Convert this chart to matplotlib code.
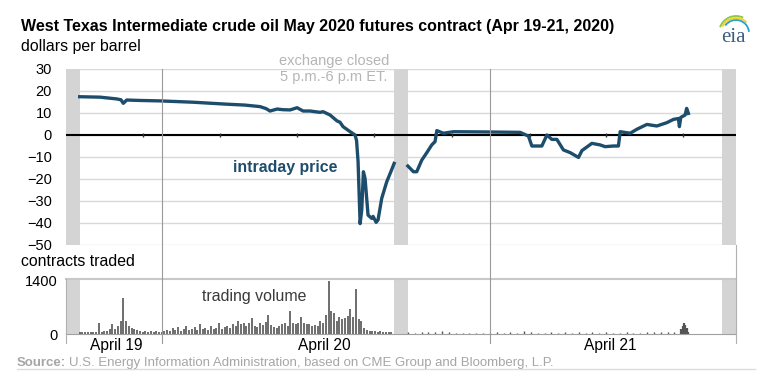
import matplotlib
matplotlib.use("Agg")
import matplotlib.pyplot as plt
import matplotlib.transforms as mtransforms
from matplotlib.lines import Line2D
from matplotlib.patches import Arc
import numpy as np

plt.rcParams['font.family'] = ['Liberation Sans', 'DejaVu Sans']

# x axis = hours after 5 p.m. ET, Sunday April 19 2020
sess1_hours = [1.0, 2.49, 3.71, 4.02, 4.19, 4.44, 5.41, 6.88, 9.29, 11.78,
               13.09, 14.19, 14.63, 14.92, 15.44, 15.87, 16.39, 16.90, 17.34, 17.85,
               18.58, 18.80, 19.31, 19.82, 20.04, 20.26, 20.78, 21.14, 21.25, 21.36,
               21.51, 21.63, 21.75, 21.87, 21.98, 22.09, 22.36, 22.46, 22.68, 22.82,
               23.09, 23.46, 23.77, 24.0]
sess1_price = [17.4, 17.2, 16.4, 16.0, 14.4, 15.9, 15.7, 15.5, 14.9, 14.0,
               13.6, 12.9, 12.0, 10.9, 11.8, 11.5, 11.4, 12.4, 10.9, 10.9,
               10.3, 10.6, 9.1, 6.4, 5.8, 3.8, 1.5, 0.0, -2.5, -12.1,
               -40.3, -34.0, -16.7, -19.7, -28.0, -36.4, -37.9, -37.0, -39.7, -38.6,
               -28.8, -21.2, -16.5, -12.9]

sess2_hours = [25.0, 25.41, 25.65, 26.02, 26.39, 26.75, 26.99, 27.12, 27.60, 28.33,
               30.53, 33.21, 33.82, 34.07, 34.80, 35.17, 35.53, 35.90, 36.38, 36.87,
               37.48, 37.73, 38.46, 39.06, 39.43, 40.04, 40.40, 40.53, 41.26, 41.75,
               42.48, 43.21, 43.94, 44.43, 44.79, 44.86, 44.96, 45.28, 45.39, 45.52]
sess2_price = [-14.1, -16.7, -16.7, -11.4, -8.0, -4.5, -3.0, 2.0, 0.8, 1.5,
               1.4, 1.2, -0.5, -5.0, -5.0, 0.0, -2.0, -2.0, -6.8, -8.0,
               -10.2, -7.1, -3.8, -4.5, -5.3, -5.0, -5.0, 1.5, 0.8, 2.6,
               4.8, 4.1, 5.6, 7.1, 7.5, 3.8, 8.0, 9.1, 12.1, 9.8]

# contracts traded, first session every 0.2 h from hour 1.0
vol1_start, vol1_step = 1.0, 0.2
vol1 = [60, 50, 40, 50, 40, 60, 50, 290, 60, 70,
        90, 130, 250, 120, 200, 330, 950, 350, 200, 150,
        120, 100, 80, 60, 70, 50, 80, 60, 70, 50,
        60, 90, 110, 80, 150, 100, 190, 90, 120, 210,
        100, 130, 180, 110, 260, 120, 150, 110, 200, 130,
        160, 280, 130, 180, 220, 150, 250, 200, 330, 260,
        280, 220, 300, 420, 200, 180, 280, 230, 320, 500,
        230, 180, 150, 200, 260, 290, 220, 590, 300, 250,
        300, 450, 280, 250, 260, 200, 230, 200, 330, 300,
        500, 1380, 600, 550, 350, 450, 400, 430, 480, 650,
        450, 1170, 380, 350, 150, 110, 90, 70, 80, 60,
        70, 50, 60, 50, 40]
# second session every 0.5 h from hour 25.0
vol2_start, vol2_step = 25.0, 0.5
vol2 = [40, 30, 50, 40, 60, 70, 40, 30, 30, 20,
        30, 20, 30, 40, 30, 50, 30, 70, 40, 30,
        30, 40, 30, 40, 30, 40, 30, 40, 30, 40,
        30, 30, 40, 30, 30, 50, 40, 60, 40, 50]
close_vol_hours = [45.0, 45.1, 45.2, 45.3, 45.4, 45.5]
close_vol = [120, 200, 290, 240, 160, 60]

closed_hours = [(0, 1), (24, 25), (48, 49)]
midnights = [7, 31]
day_labels = ['April 19', 'April 20', 'April 21']
day_label_pos = [3.7, 18.9, 39.8]
zero_ticks = [5.63, 11.27, 16.9, 22.5, 28.2, 33.9, 39.5, 45.1]
price_ticks = [30, 20, 10, 0, -10, -20, -30, -40, -50]
volume_ticks = [0, 1400]

W, H = 766, 383
def fx(px):
    return px / W
def fy(py):
    return 1 - py / H

line_color = '#1d4d6c'
band_color = '#d4d4d4'
grid_color = '#d9d9d9'
fs = 10.5     # tick labels
fl = 11.4     # titles / labels

fig = plt.figure(figsize=(W / 100, H / 100), dpi=100)

# price panel
ax = fig.add_axes([fx(66), fy(245), (736 - 66) / W, (245 - 69) / H])
ax.set_xlim(0, 49)
ax.set_ylim(-50, 30)
ax.set_yticks(price_ticks)
ax.set_xticks([])
ax.set_axisbelow(True)
ax.grid(axis='y', color=grid_color, lw=1)
for a, b in closed_hours:
    ax.axvspan(a, b, color=band_color, lw=0, zorder=1)
ax.axhline(0, color='black', lw=1.5, zorder=2)
ax.plot(zero_ticks, [0] * len(zero_ticks), '|', color='#333333', ms=3, mew=1, zorder=2)
ax.plot(sess1_hours, sess1_price, color=line_color, lw=2.4, zorder=3, solid_joinstyle='round')
ax.plot(sess2_hours, sess2_price, color=line_color, lw=2.4, zorder=3, solid_joinstyle='round')
for s in ax.spines.values():
    s.set_visible(False)
ax.tick_params(length=0, pad=10, labelsize=fs)

# volume panel
axv = fig.add_axes([fx(66), fy(334), (736 - 66) / W, (334 - 279) / H])
axv.set_xlim(0, 49)
axv.set_ylim(0, 1440)
axv.set_yticks(volume_ticks)
for a, b in closed_hours:
    axv.axvspan(a, b, color=band_color, lw=0, zorder=1)
h1 = vol1_start + vol1_step * np.arange(len(vol1))
h2 = vol2_start + vol2_step * np.arange(len(vol2))
vol_color = '#555555'
axv.vlines(h1, 0, vol1, color=vol_color, lw=1.2, zorder=2)
axv.vlines(h2, 0, vol2, color=vol_color, lw=1.0, zorder=2)
axv.vlines(close_vol_hours, 0, close_vol, color=vol_color, lw=1.6, zorder=2)
axv.spines['left'].set_visible(False)
axv.spines['right'].set_visible(False)
axv.spines['top'].set_color('#c8c8c8')
axv.spines['top'].set_linewidth(1.5)
axv.spines['bottom'].set_color('#a0a0a0')
axv.set_xticks(day_label_pos)
axv.set_xticklabels(day_labels)
axv.tick_params(axis='y', length=0, pad=6, labelsize=fs)
axv.tick_params(axis='x', length=0, pad=3, labelsize=11.2)

# day divider lines across both panels
blend = mtransforms.blended_transform_factory(ax.transData, fig.transFigure)
for m in midnights:
    fig.add_artist(Line2D([m, m], [fy(69), fy(343)], transform=blend, color='#9a9a9a', lw=0.8))
fig.add_artist(Line2D([0, 0], [fy(279), fy(343)], transform=blend, color='#b0b0b0', lw=0.8))
fig.add_artist(Line2D([49, 49], [fy(245), fy(343)], transform=blend, color='#b0b0b0', lw=0.8))

# texts
fig.text(fx(21), fy(27), 'West Texas Intermediate crude oil May 2020 futures contract (Apr 19-21, 2020)',
         weight='bold', size=11.5, va='center', ha='left')
fig.text(fx(21), fy(47), 'dollars per barrel', size=fl, va='center', ha='left')
fig.text(fx(21), fy(262), 'contracts traded', size=fl, va='center', ha='left')
fig.text(fx(334), fy(61), 'exchange closed', size=fs, color='#b5b5b5', va='center', ha='center')
fig.text(fx(334), fy(77), '5 p.m.-6 p.m ET.', size=fs, color='#b5b5b5', va='center', ha='center')
fig.text(fx(285), fy(167), 'intraday price', size=fl, weight='bold', color=line_color,
         va='center', ha='center')
fig.text(fx(254), fy(296), 'trading volume', size=fl, color='#3a3a3a', va='center', ha='center')

src_color = '#a6a6a6'
t = fig.text(fx(17), fy(363), 'Source:', weight='bold', size=9.5, color=src_color, va='center', ha='left')
r = fig.canvas.get_renderer()
bb = t.get_window_extent(r)
fig.text(bb.x1 / fig.bbox.width + 3 / W, fy(363),
         'U.S. Energy Information Administration, based on CME Group and Bloomberg, L.P.',
         size=9.5, color=src_color, va='center', ha='left')
fig.add_artist(Line2D([fx(17), fx(755)], [fy(369), fy(369)], color='#dcdcdc', lw=1))

# eia logo
lax = fig.add_axes([fx(714), fy(46), 40 / W, 36 / H])
lax.set_xlim(0, 40)
lax.set_ylim(0, 36)
lax.axis('off')
lax.text(19, 9, 'eia', family='Liberation Serif', size=15, color='#3f5e7e', ha='center', va='center')
lax.add_patch(Arc((22, 13), 34, 34, theta1=65, theta2=160, color='#8dc63f', lw=1.3))
lax.add_patch(Arc((22, 13), 30, 30, theta1=45, theta2=155, color='#f2cf2a', lw=1.3))
lax.add_patch(Arc((22, 13), 26, 26, theta1=5, theta2=145, color='#2a9fd6', lw=1.3))

fig.savefig('out.png', dpi=100)
